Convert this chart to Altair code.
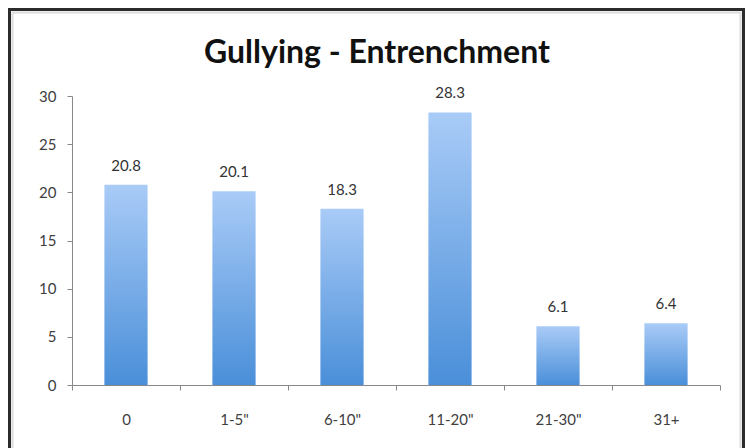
import altair as alt
import pandas as pd

categories = ["0", "1-5\"", "6-10\"", "11-20\"", "21-30\"", "31+"]
values = [20.8, 20.1, 18.3, 28.3, 6.1, 6.4]
y_ticks = [0, 5, 10, 15, 20, 25, 30]
title_text = "Gullying - Entrenchment"

df = pd.DataFrame({"cat": categories, "val": values})
FONT = "Lato"

x_enc = alt.X("cat:N", sort=categories, title=None,
              scale=alt.Scale(paddingInner=0, paddingOuter=0),
              axis=alt.Axis(labelAngle=0, tickBand="extent", tickSize=5,
                            labelPadding=22, labelFont=FONT, labelFontSize=15,
                            labelColor="#404040", domainColor="#888888",
                            tickColor="#888888"))
y_enc = alt.Y("val:Q", title=None,
              scale=alt.Scale(domain=[0, 30], nice=False),
              axis=alt.Axis(values=y_ticks, grid=False, tickSize=5,
                            labelPadding=11, labelFont=FONT, labelFontSize=15,
                            labelColor="#404040", domainColor="#888888",
                            tickColor="#888888"))

bars = alt.Chart(df).mark_bar(
    width=alt.RelativeBandSize(0.4),
    color=alt.Gradient(
        gradient="linear",
        stops=[alt.GradientStop(color="#a9cbf7", offset=0),
               alt.GradientStop(color="#4a8fd9", offset=1)],
        x1=0, x2=0, y1=0, y2=1),
).encode(x=x_enc, y=y_enc)

labels = alt.Chart(df).mark_text(
    baseline="bottom", dy=-11, font=FONT, fontSize=15, color="#333333"
).encode(x=alt.X("cat:N", sort=categories), y="val:Q",
         text=alt.Text("val:Q", format=".1f"))

border = alt.Chart(alt.Data(values=[{}])).mark_rect(
    fill=None, stroke="#2b2b2b", strokeWidth=3
).encode(x=alt.value(-62.5), x2=alt.value(671.5),
         y=alt.value(-86.5), y2=alt.value(380))

inner = alt.Chart(alt.Data(values=[{}])).mark_rect(
    fill=None, stroke="#dcdcdc", strokeWidth=2
).encode(x=alt.value(-59.5), x2=alt.value(668.5),
         y=alt.value(-83.5), y2=alt.value(380))

title = alt.Chart(alt.Data(values=[{"t": title_text}])).mark_text(
    font=FONT, fontSize=32, fontWeight="bold", color="#111111",
    align="center", baseline="middle"
).encode(x=alt.value(305), y=alt.value(-43), text="t:N")

chart = alt.layer(inner, border, bars, labels, title).properties(
    width=648, height=289,
    autosize=alt.AutoSizeParams(type="none"),
    padding={"left": 72, "top": 96, "right": 25, "bottom": 63},
).configure_view(stroke=None)

chart.save("out.html", embed_options={"renderer": "svg", "actions": False})
